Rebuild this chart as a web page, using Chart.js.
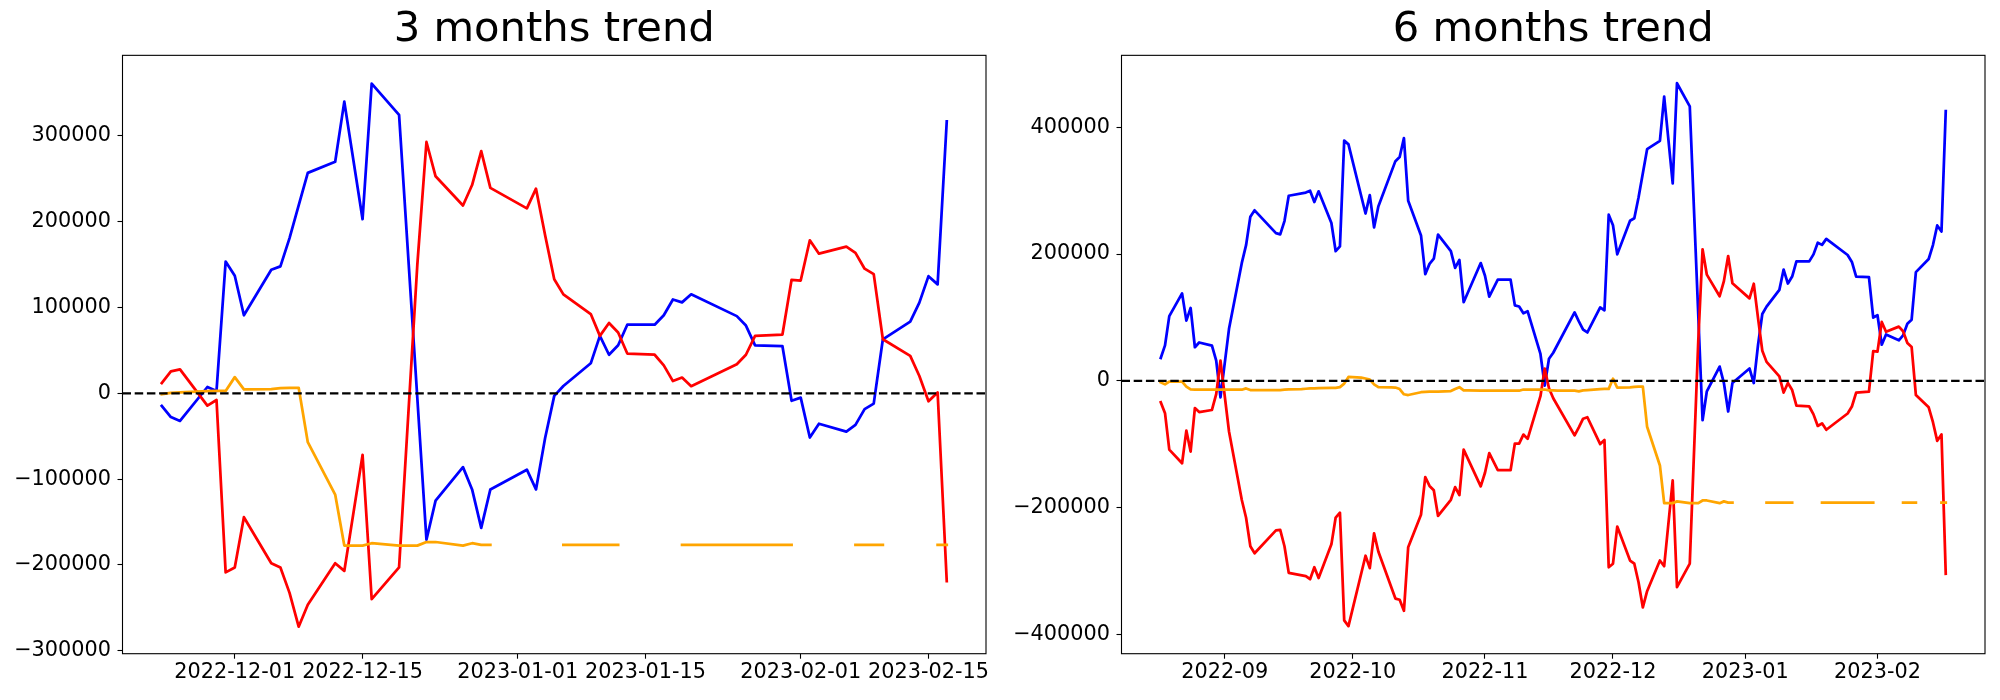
<!DOCTYPE html>
<html><head><meta charset="utf-8">
<script src="https://cdn.jsdelivr.net/npm/chart.js@4.4.0/dist/chart.umd.min.js"></script>
<style>
html,body{margin:0;padding:0;background:#fff;overflow:hidden;width:2000px;height:700px;}
canvas{position:absolute;top:0;}
#c1{left:0;}
#c2{left:1000px;}
</style></head><body>
<canvas id="c1" width="1000" height="700"></canvas>
<canvas id="c2" width="1000" height="700"></canvas>
<script>
// ---------- 3 months window ----------
const L_DATES = ['2022-11-23','2022-11-24','2022-11-25','2022-11-28','2022-11-29','2022-11-30',
'2022-12-01','2022-12-02','2022-12-05','2022-12-06','2022-12-07','2022-12-08','2022-12-09','2022-12-12','2022-12-13','2022-12-15','2022-12-16','2022-12-19','2022-12-21','2022-12-22','2022-12-23','2022-12-26','2022-12-27','2022-12-28','2022-12-29',
'2023-01-02','2023-01-03','2023-01-04','2023-01-05','2023-01-06','2023-01-09','2023-01-10','2023-01-11','2023-01-12','2023-01-13','2023-01-16','2023-01-17','2023-01-18','2023-01-19','2023-01-20','2023-01-25','2023-01-26','2023-01-27','2023-01-30','2023-01-31',
'2023-02-01','2023-02-02','2023-02-03','2023-02-06','2023-02-07','2023-02-08','2023-02-09','2023-02-10','2023-02-13','2023-02-14','2023-02-15','2023-02-16','2023-02-17'];
const L_BLUE = [-14700,-27600,-32200,7400,2800,153600,
137000,91000,144000,148000,181000,219000,257000,270000,340000,203000,361000,324600,null,-170600,-125000,-86000,-112000,-156800,-112000,
-89000,-112000,-52000,-3000,8500,35000,67000,45000,56000,80000,80000,91000,109400,106000,115400,90000,79000,56000,55000,-8700,
-5000,-51500,-35400,-44600,-36800,-18400,-12000,63000,83700,105700,136600,127000,317000];
const L_RED = [12000,25700,28000,-14300,-7800,-208700,
-203000,-144400,-198000,-203000,-232600,-272000,-246400,-198000,-207000,-71700,-240000,-202800,150000,293000,253000,219000,242800,282300,239500,
215600,238600,184400,132900,115400,92400,67000,82000,71000,46400,45000,32600,14300,18400,8300,34000,45000,67000,68500,132400,
131500,178400,162800,171000,163700,145300,138900,63000,43700,20200,-9200,1000,-218900];
const L_ORANGE = [-1000,500,1000,2500,2800,2800,
18900,4600,5000,6000,6400,6400,-57000,-118000,-177500,-177500,-174700,-177500,-177500,-173300,-173300,-177500,-174700,-176600,-176600,
null,null,null,null,-176600,-176600,-176600,-176600,-176600,null,null,null,null,-176600,-176600,-176600,-176600,-176600,-176600,-176600,
null,null,null,null,-176600,-176600,-176600,-176600,null,null,null,-176600,-176600];
const L_TICKS = ['2022-12-01','2022-12-15','2023-01-01','2023-01-15','2023-02-01','2023-02-15'];
const L_YTICKS = [-300000,-200000,-100000,0,100000,200000,300000];

// ---------- 6 months window ----------
const R_DATES = ['2022-08-17','2022-08-18','2022-08-19','2022-08-22','2022-08-23','2022-08-24','2022-08-25','2022-08-26','2022-08-29','2022-08-30','2022-08-31',
'2022-09-01','2022-09-02','2022-09-05','2022-09-06','2022-09-07','2022-09-08','2022-09-09','2022-09-13','2022-09-14','2022-09-15','2022-09-16','2022-09-19','2022-09-20','2022-09-21','2022-09-22','2022-09-23','2022-09-26','2022-09-27','2022-09-28','2022-09-29','2022-09-30',
'2022-10-03','2022-10-04','2022-10-05','2022-10-06','2022-10-07','2022-10-10','2022-10-11','2022-10-12','2022-10-13','2022-10-14','2022-10-17','2022-10-18','2022-10-19','2022-10-20','2022-10-21','2022-10-24','2022-10-25','2022-10-26','2022-10-27','2022-10-28','2022-10-31',
'2022-11-01','2022-11-02','2022-11-03','2022-11-04','2022-11-07','2022-11-08','2022-11-09','2022-11-10','2022-11-11','2022-11-14','2022-11-15','2022-11-16','2022-11-17','2022-11-18','2022-11-21','2022-11-22',
'2022-11-23','2022-11-24','2022-11-25','2022-11-28','2022-11-29','2022-11-30',
'2022-12-01','2022-12-02','2022-12-05','2022-12-06','2022-12-07','2022-12-08','2022-12-09','2022-12-12','2022-12-13','2022-12-15','2022-12-16','2022-12-19','2022-12-21','2022-12-22','2022-12-23','2022-12-26','2022-12-27','2022-12-28','2022-12-29',
'2023-01-02','2023-01-03','2023-01-04','2023-01-05','2023-01-06','2023-01-09','2023-01-10','2023-01-11','2023-01-12','2023-01-13','2023-01-16','2023-01-17','2023-01-18','2023-01-19','2023-01-20','2023-01-25','2023-01-26','2023-01-27','2023-01-30','2023-01-31',
'2023-02-01','2023-02-02','2023-02-03','2023-02-06','2023-02-07','2023-02-08','2023-02-09','2023-02-10','2023-02-13','2023-02-14','2023-02-15','2023-02-16','2023-02-17'];
const R_BLUE = [36000,56000,102000,138000,95000,115000,53000,60500,55500,31800,-26000,
null,82000,186000,214000,259000,269000,null,233000,231000,252000,292000,null,297000,300000,282000,299000,249000,204500,212000,379000,373000,
null,264000,293000,242000,275000,null,346600,353000,383000,284000,229400,168300,184500,192600,230700,204500,178300,190800,124000,null,185800,
165800,132800,null,159600,159600,119000,117200,106600,109700,42400,-7500,34900,44300,null,null,107900,
93800,80900,76300,115900,111300,262100,
245500,199500,252500,256500,289500,327500,365500,378500,448500,311500,469500,433100,null,-62100,-16500,22500,-3500,-48300,-3500,
19500,-3500,56500,105500,117000,143500,175500,153500,164500,188500,188500,199500,217900,214500,223900,198500,187500,164500,163500,99800,
103500,57000,73100,63900,71700,90100,96500,171500,192200,214200,245100,235500,425500];
const R_RED = [-33700,-51000,-108500,-130000,-78600,-111600,-43000,-49300,-46000,-21000,31800,
null,-80000,-188000,-216000,-261000,-272000,null,-236000,-235000,-261000,-303000,null,-308000,-313000,-294000,-311000,-258000,-215700,-208000,-378000,-387000,
null,-276000,-295500,-240600,-269300,null,-343500,-345400,-362800,-262500,-211300,-152000,-165800,-172700,-213200,-187700,-167700,-180200,-108500,null,-166500,
-145000,-114000,null,-141000,-141000,-99000,-99000,-84800,-91600,-24300,19300,-11800,-27400,null,null,-86000,
-73500,-59800,-57500,-99800,-93300,-294200,
-288500,-229900,-283500,-288500,-318100,-357500,-331900,-283500,-292500,-157200,-325500,-288300,64500,207500,167500,133500,157300,196800,154000,
130100,153100,98900,47400,29900,6900,-18500,-3500,-14500,-39100,-40500,-52900,-71200,-67100,-77200,-51500,-40500,-18500,-17000,46900,
46000,92900,77300,85500,78200,59800,53400,-22500,-41800,-65300,-94700,-84500,-304400];
const R_ORANGE = [-2500,-5600,-1200,-1200,-9000,-13500,-14000,-14000,-14000,-14000,-14000,
-14000,-14000,-14000,-12000,-14500,-14500,-14500,-14500,-14500,-14000,-13500,-13000,-12500,-12000,-12000,-11500,-11000,-11000,-10000,-4400,6200,
5000,3700,2000,-5600,-10000,-10300,-10600,-13000,-21200,-22400,-18000,-17500,-17000,-17000,-17000,-16200,-13000,-10000,-15000,-15000,-15600,
-15600,-15600,-15600,-15600,-15600,-15600,-15600,-13700,-13700,-13700,-13700,-15000,-15000,-15500,-15500,-15500,
-16500,-15000,-14500,-13000,-12700,-12700,
3400,-10900,-10500,-9500,-9100,-9100,-72500,-133500,-193000,-193000,-190200,-193000,-193000,-188800,-188800,-193000,-190200,-192100,-192100,
null,null,null,null,-192100,-192100,-192100,-192100,-192100,null,null,null,null,-192100,-192100,-192100,-192100,-192100,-192100,-192100,
null,null,null,null,-192100,-192100,-192100,-192100,null,null,null,-192100,-192100];
const R_TICKS = ['2022-09','2022-10','2022-11','2022-12','2023-01','2023-02'];
const R_YTICKS = [-400000,-200000,0,200000,400000];

const BASELINE = 0;

// ---------- helpers ----------
function dayNum(s){ const p = s.split('-').map(Number); return Date.UTC(p[0], p[1]-1, p[2] || 1) / 86400000; }
function pts(dates, vals){ return dates.map((d,i)=>({x: dayNum(d), y: vals[i]})); }

const FONT = 'DejaVu Sans';
Chart.defaults.color = '#000';
Chart.defaults.font.family = FONT;

const framePlugin = {
  id: 'frame',
  afterDraw(chart){
    const a = chart.chartArea, ctx = chart.ctx;
    ctx.save();
    ctx.strokeStyle = '#000';
    ctx.lineWidth = 1.1;
    ctx.strokeRect(a.left, a.top, a.right - a.left, a.bottom - a.top);
    ctx.restore();
  }
};

function makeChart(id, title, dates, blue, red, orange, xticks, yticks, ymin, ymax, yAxisW, padRight){
  const first = dayNum(dates[0]), last = dayNum(dates[dates.length-1]);
  const span = last - first;
  const xmin = first - 0.05*span, xmax = last + 0.05*span;
  const tickVals = xticks.map(dayNum);
  const common = {pointRadius: 0, pointHoverRadius: 0, tension: 0, fill: false, borderWidth: 2.75, borderCapStyle: 'square', borderJoinStyle: 'round'};
  return new Chart(document.getElementById(id), {
    type: 'line',
    data: {
      datasets: [
        Object.assign({}, common, {label: 'zero', data: [{x: xmin, y: BASELINE}, {x: xmax, y: BASELINE}], borderColor: '#000', borderDash: [8.5, 3.7], borderWidth: 2.2, borderCapStyle: 'butt', order: 0}),
        Object.assign({}, common, {label: 'orange', data: pts(dates, orange), borderColor: '#ffa500', spanGaps: false, order: 1}),
        Object.assign({}, common, {label: 'red', data: pts(dates, red), borderColor: '#ff0000', spanGaps: true, order: 2}),
        Object.assign({}, common, {label: 'blue', data: pts(dates, blue), borderColor: '#0000ff', spanGaps: true, order: 3})
      ]
    },
    options: {
      responsive: false,
      animation: false,
      devicePixelRatio: 1,
      layout: {padding: {left: 0, right: padRight, top: 0, bottom: 0}, autoPadding: false},
      plugins: {
        legend: {display: false},
        tooltip: {enabled: false},
        title: {display: true, text: title, fullSize: false, color: '#000',
          font: {family: FONT, size: 41.7, weight: 'normal', lineHeight: 1.2},
          padding: {top: 5, bottom: 0.3}}
      },
      scales: {
        x: {
          type: 'linear', min: xmin, max: xmax,
          afterFit(s){ s.height = 46.3; },
          afterBuildTicks(s){ s.ticks = tickVals.map(v => ({value: v})); },
          ticks: {callback: (v, i) => xticks[i], font: {family: FONT, size: 20.8}, color: '#000', padding: 1.3, maxRotation: 0, autoSkip: false},
          grid: {display: true, drawOnChartArea: false, drawTicks: true, tickLength: 5, tickWidth: 1.1, tickColor: '#000'},
          border: {display: false}
        },
        y: {
          type: 'linear', min: ymin, max: ymax,
          afterFit(s){ s.width = yAxisW; },
          afterBuildTicks(s){ s.ticks = yticks.map(v => ({value: v})); },
          ticks: {callback: (v) => (v < 0 ? '\u2212' + Math.abs(v) : String(v)), font: {family: FONT, size: 20.8}, color: '#000', padding: 6.5, autoSkip: false},
          grid: {display: true, drawOnChartArea: false, drawTicks: true, tickLength: 5, tickWidth: 1.1, tickColor: '#000'},
          border: {display: false}
        }
      }
    },
    plugins: [framePlugin]
  });
}

makeChart('c1', '3 months trend', L_DATES, L_BLUE, L_RED, L_ORANGE, L_TICKS, L_YTICKS, -303500, 394000, 122.5, 14);
makeChart('c2', '6 months trend', R_DATES, R_BLUE, R_RED, R_ORANGE, R_TICKS, R_YTICKS, -430500, 513500, 121.5, 15);
</script>
</body></html>
